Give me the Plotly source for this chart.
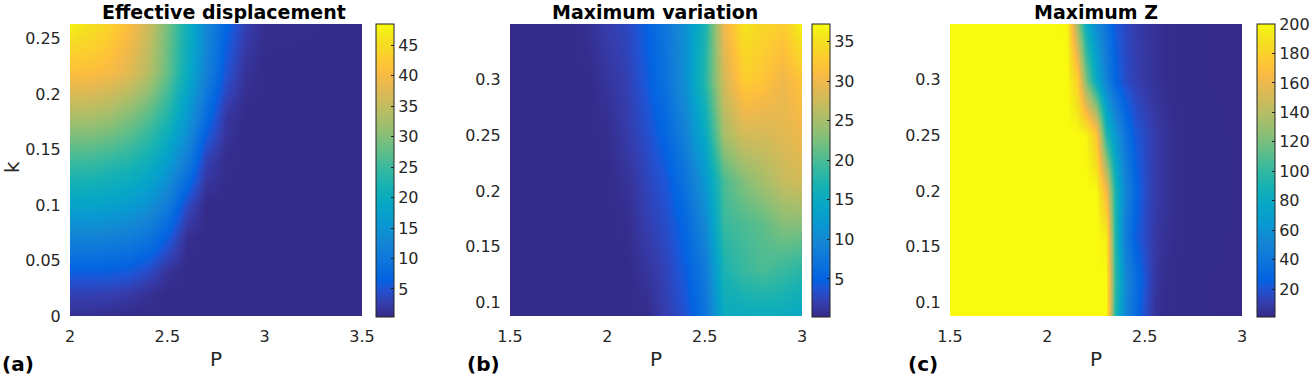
import plotly.graph_objects as go

# (a) Effective displacement
p_a = [2.0, 2.1, 2.2, 2.3, 2.4, 2.5, 2.6, 2.7, 2.8, 2.9, 3.0, 3.5]
k_a = [0.0, 0.02, 0.04, 0.07, 0.10, 0.14, 0.18, 0.22, 0.265]
z_a = [
    [1.2, 1.1, 0.9, 0.5, 0.5, 0.5, 0.5, 0.5, 0.5, 0.5, 0.5, 0.5],
    [3.0, 3.0, 2.8, 2.3, 1.2, 0.5, 0.5, 0.5, 0.5, 0.5, 0.5, 0.5],
    [6.0, 6.0, 6.0, 5.5, 4.0, 1.5, 0.5, 0.5, 0.5, 0.5, 0.5, 0.5],
    [12, 12, 11.5, 11, 9.5, 6, 1, 0.5, 0.5, 0.5, 0.5, 0.5],
    [18, 18, 17.5, 16.5, 14.5, 11, 4, 0.5, 0.5, 0.5, 0.5, 0.5],
    [25, 25, 24, 23, 21, 17, 11, 3, 0.8, 0.5, 0.5, 0.5],
    [33, 33, 32, 30, 27, 23, 16, 8, 2, 0.5, 0.5, 0.5],
    [41, 41, 40, 38, 34, 28, 20, 12, 5, 1.5, 0.5, 0.5],
    [48, 46, 44, 41, 36, 29, 21, 13, 7, 3, 0.8, 0.5],
]

# (b) Maximum variation
p_b = [1.5, 1.8, 1.9, 2.0, 2.1, 2.2, 2.3, 2.4, 2.5, 2.6, 2.7, 2.8, 2.9, 3.0]
k_b = [0.085, 0.13, 0.17, 0.21, 0.25, 0.30, 0.352]
z_b = [
    [0.3, 0.3, 0.3, 0.3, 0.3, 0.3, 2.0, 3.5, 7, 15, 15, 15, 15, 14],
    [0.3, 0.3, 0.3, 0.3, 0.3, 1.2, 2.5, 4.5, 8, 17, 19, 20, 19, 18],
    [0.3, 0.3, 0.3, 0.3, 0.5, 2.0, 3.2, 5.5, 10, 19, 20, 21, 23, 23],
    [0.3, 0.3, 0.3, 0.3, 1.0, 2.5, 4.0, 7, 12, 20, 23, 25, 27, 28],
    [0.3, 0.3, 0.3, 0.5, 1.8, 3.2, 5.5, 9, 15, 25, 28, 28, 29, 30],
    [0.3, 0.3, 0.3, 1.2, 2.2, 4.2, 7, 11, 18, 28, 33, 32, 30, 32],
    [0.3, 0.3, 0.8, 2.0, 2.8, 4.8, 7.5, 11, 17, 30, 35.5, 34, 33, 37],
]

# (c) Maximum Z
p_c = [1.5, 2.0, 2.05, 2.1, 2.15, 2.2, 2.25, 2.3, 2.35, 2.4, 2.45, 2.5, 2.55, 2.6, 2.65, 2.7, 3.0]
k_c = [0.085, 0.12, 0.16, 0.20, 0.25, 0.30, 0.352]
z_c = [
    [200, 200, 200, 200, 200, 200, 200, 200, 95, 52, 32, 17, 6, 2.5, 2, 1.5, 1.2],
    [200, 200, 200, 200, 200, 200, 200, 200, 100, 55, 35, 20, 8, 3, 2, 1.5, 1.2],
    [200, 200, 200, 200, 200, 200, 200, 195, 95, 45, 25, 16, 9, 5, 3, 2, 1.2],
    [200, 200, 200, 200, 200, 200, 200, 165, 92, 52, 30, 17, 10, 6, 3, 2, 1.2],
    [200, 200, 200, 200, 200, 198, 175, 95, 65, 38, 22, 16, 10, 6, 3, 2, 1.2],
    [200, 200, 200, 200, 180, 120, 80, 48, 28, 17, 12, 8, 5.5, 3, 2, 1.5, 1.2],
    [200, 200, 200, 198, 130, 80, 55, 38, 22, 15, 10, 7, 5, 3, 2, 1.5, 1.2],
]

parula = [
    (1, (0.2081, 0.1663, 0.5292)), (4, (0.2081, 0.2386, 0.6771)),
    (7, (0.1253, 0.3242, 0.8303)), (9, (0.0117, 0.3875, 0.8820)),
    (13, (0.0498, 0.4586, 0.8641)), (17, (0.0793, 0.5200, 0.8312)),
    (21, (0.0343, 0.5966, 0.8199)), (25, (0.0228, 0.6535, 0.7768)),
    (29, (0.0843, 0.6928, 0.7062)), (33, (0.2178, 0.7250, 0.6193)),
    (37, (0.3953, 0.7459, 0.5244)), (41, (0.5709, 0.7485, 0.4494)),
    (45, (0.7184, 0.7411, 0.3905)), (49, (0.8507, 0.7299, 0.3360)),
    (52, (0.9450, 0.7261, 0.2886)), (54, (0.9938, 0.7455, 0.2403)),
    (57, (0.9880, 0.8066, 0.1794)), (60, (0.9626, 0.8705, 0.1309)),
    (62, (0.9598, 0.9218, 0.0948)), (64, (0.9763, 0.9831, 0.0538)),
]
cscale = [[(i - 1) / 63, "rgb(%d,%d,%d)" % tuple(round(c * 255) for c in rgb)]
          for i, rgb in parula]

W, H = 1313, 379
FONT = "DejaVu Sans"
top_px, bot_px = 24, 316
ydom = [(H - bot_px) / H, (H - top_px) / H]

panels = [
    dict(p=p_a, k=k_a, z=z_a, x0=70, cb=376, zr=(0.4, 48.5), cbt=list(range(5, 50, 5)),
         xr=[2, 3.5], xt=[2, 2.5, 3, 3.5], yr=[0, 0.263], yt=[0, 0.05, 0.1, 0.15, 0.2, 0.25],
         title="Effective displacement", tx=224, lab="(a)", lx=0),
    dict(p=p_b, k=k_b, z=z_b, x0=510, cb=812, zr=(0.2, 37.2), cbt=list(range(5, 40, 5)),
         xr=[1.5, 3], xt=[1.5, 2, 2.5, 3], yr=[0.0877, 0.35], yt=[0.1, 0.15, 0.2, 0.25, 0.3],
         title="Maximum variation", tx=655, lab="(b)", lx=465),
    dict(p=p_c, k=k_c, z=z_c, x0=950, cb=1257, zr=(1.1, 200), cbt=list(range(20, 220, 20)),
         xr=[1.5, 3], xt=[1.5, 2, 2.5, 3], yr=[0.0877, 0.35], yt=[0.1, 0.15, 0.2, 0.25, 0.3],
         title="Maximum Z", tx=1096, lab="(c)", lx=906),
]

fig = go.Figure()
annotations = []
for i, pn in enumerate(panels):
    n = "" if i == 0 else str(i + 1)
    fig.add_trace(go.Heatmap(
        x=pn["p"], y=pn["k"], z=pn["z"], zsmooth="best", colorscale=cscale,
        zmin=pn["zr"][0], zmax=pn["zr"][1], xaxis="x" + n, yaxis="y" + n,
        hoverinfo="skip",
        colorbar=dict(x=pn["cb"] / W, xanchor="left", y=ydom[1], yanchor="top",
                      len=bot_px - top_px + 1, lenmode="pixels", thickness=18,
                      thicknessmode="pixels", xpad=0, ypad=0,
                      outlinewidth=1, outlinecolor="#222222",
                      tickvals=pn["cbt"], ticks="inside", ticklen=3, tickcolor="#222222",
                      tickfont=dict(family=FONT, size=16, color="#262626")),
    ))
    x1 = pn["x0"] + 292
    fig.update_layout(**{
        "xaxis" + n: dict(domain=[pn["x0"] / W, x1 / W], range=pn["xr"], tickvals=pn["xt"],
                          ticks="outside", ticklen=6, tickcolor="rgba(0,0,0,0)",
                          showgrid=False, zeroline=False, showline=False, automargin=False,
                          tickfont=dict(family=FONT, size=16, color="#262626"),
                          anchor="y" + n),
        "yaxis" + n: dict(domain=ydom, range=pn["yr"], tickvals=pn["yt"],
                          ticks="outside", ticklen=5, tickcolor="rgba(0,0,0,0)",
                          showgrid=False, zeroline=False, showline=False, automargin=False,
                          tickfont=dict(family=FONT, size=16, color="#262626"),
                          anchor="x" + n),
    })
    annotations.append(dict(text="<b>%s</b>" % pn["title"], x=pn["tx"] / W, y=1 - 12 / H,
                            xref="paper", yref="paper", xanchor="center", yanchor="middle",
                            showarrow=False, font=dict(family=FONT, size=19, color="black")))
    annotations.append(dict(text="P", x=(pn["x0"] + 146) / W, y=1 - 359 / H,
                            xref="paper", yref="paper", xanchor="center", yanchor="middle",
                            showarrow=False, font=dict(family=FONT, size=20, color="#262626")))
    annotations.append(dict(text="<b>%s</b>" % pn["lab"], x=pn["lx"] / W, y=1 - 364 / H,
                            xref="paper", yref="paper", xanchor="left", yanchor="middle",
                            showarrow=False, font=dict(family=FONT, size=20, color="black")))

annotations.append(dict(text="k", x=12 / W, y=1 - 167 / H, xref="paper", yref="paper",
                        xanchor="center", yanchor="middle", showarrow=False, textangle=-90,
                        font=dict(family=FONT, size=20, color="#262626")))

fig.update_layout(width=W, height=H, margin=dict(l=0, r=0, t=0, b=0, autoexpand=False),
                  paper_bgcolor="white", plot_bgcolor="white",
                  annotations=annotations, showlegend=False)

fig.write_html("out.html", config={"displayModeBar": False},
               post_script="document.body.style.margin = '0';")
